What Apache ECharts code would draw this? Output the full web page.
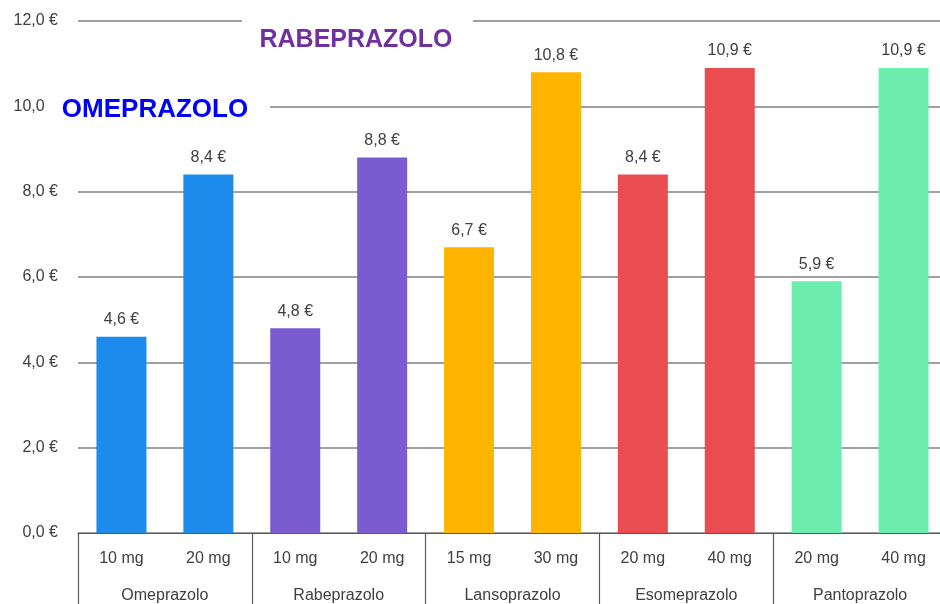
<!DOCTYPE html>
<html>
<head>
<meta charset="utf-8">
<script src="https://cdn.jsdelivr.net/npm/echarts@6/dist/echarts.min.js"></script>
<style>
html,body{margin:0;padding:0;background:#fff;}
#chart{width:940px;height:604px;}
</style>
</head>
<body>
<div id="chart"></div>
<script>
var doses = ['10 mg','20 mg','10 mg','20 mg','15 mg','30 mg','20 mg','40 mg','20 mg','40 mg'];
var drugs = ['Omeprazolo','Rabeprazolo','Lansoprazolo','Esomeprazolo','Pantoprazolo'];
var prices = [4.6, 8.4, 4.8, 8.8, 6.7, 10.8, 8.4, 10.9, 5.9, 10.9];
var yTicks = [0, 2, 4, 6, 8, 10, 12];
var barColors = ['#1C8BEC','#1C8BEC','#7B5BD0','#7B5BD0','#FFB400','#FFB400','#EA4D50','#EA4D50','#6CEFAE','#6CEFAE'];

var FONT = 'Liberation Sans';
var chart = echarts.init(document.getElementById('chart'));

function euro(v){ return v.toFixed(1).replace('.', ',') + ' €'; }

var option = {
  animation: false,
  backgroundColor: '#fff',
  grid: { left: 78, width: 869, top: 21, bottom: 71, containLabel: false, outerBoundsMode: 'none' },
  xAxis: [
    {
      type: 'category',
      data: doses,
      position: 'bottom',
      axisLine: { show: true, lineStyle: { color: '#595959', width: 1.2 } },
      axisTick: { show: false },
      axisLabel: { interval: 0, margin: 18, color: '#404040', fontFamily: FONT, fontSize: 16 }
    },
    {
      type: 'category',
      data: drugs,
      position: 'bottom',
      axisLine: { show: false },
      axisTick: { show: true, length: 90, lineStyle: { color: '#595959', width: 1.2 } },
      axisLabel: { interval: 0, margin: 55, color: '#404040', fontFamily: FONT, fontSize: 16 }
    }
  ],
  yAxis: {
    type: 'value',
    min: yTicks[0],
    max: yTicks[yTicks.length - 1],
    interval: 2,
    axisLine: { show: false },
    axisTick: { show: false },
    axisLabel: { margin: 20, color: '#404040', fontFamily: FONT, fontSize: 16, formatter: euro },
    splitLine: { show: true, lineStyle: { color: '#808080', width: 1.5 } }
  },
  series: [{
    type: 'bar',
    xAxisIndex: 0,
    barWidth: 50,
    data: prices.map(function(v, i){ return { value: v, itemStyle: { color: barColors[i] } }; }),
    label: {
      show: true, position: 'top', distance: 9,
      color: '#404040', fontFamily: FONT, fontSize: 16,
      formatter: function(p){ return euro(p.value); }
    }
  }],
  graphic: [
    { type: 'rect', z: 100, shape: { x: 242, y: 12, width: 231, height: 46 }, style: { fill: '#fff' } },
    { type: 'text', z: 101, x: 356, y: 40, style: { text: 'RABEPRAZOLO', fill: '#7030A0', font: 'bold 25px "Liberation Sans"', align: 'center', verticalAlign: 'middle' } },
    { type: 'rect', z: 100, shape: { x: 48, y: 92, width: 222, height: 34 }, style: { fill: '#fff' } },
    { type: 'text', z: 101, x: 155, y: 110, style: { text: 'OMEPRAZOLO', fill: '#0000FF', font: 'bold 26px "Liberation Sans"', align: 'center', verticalAlign: 'middle' } }
  ]
};
chart.setOption(option);
</script>
</body>
</html>
